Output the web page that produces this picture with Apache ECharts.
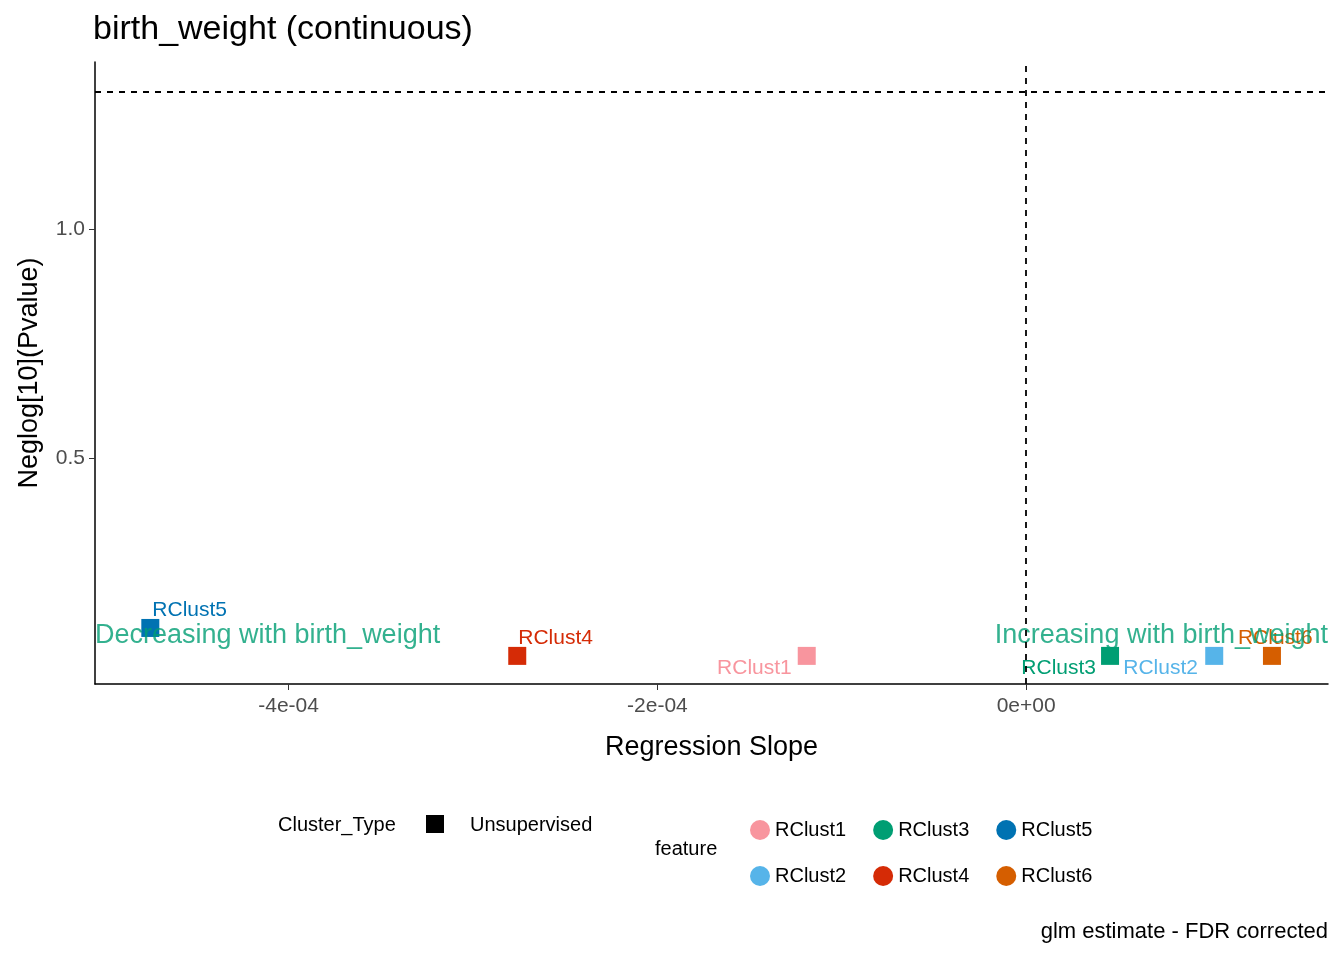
<!DOCTYPE html>
<html lang="en">
<head>
<meta charset="UTF-8">
<title>birth_weight</title>
<script src="https://cdn.jsdelivr.net/npm/echarts@6/dist/echarts.min.js"></script>
</head>
<body style="margin:0">
<div id="chart" style="width:1344px;height:960px;"></div>
<script>
// data
var features = ['RClust1', 'RClust2', 'RClust3', 'RClust4', 'RClust5', 'RClust6'];
var slopes = [-1.19e-4, 1.02e-4, 0.455e-4, -2.76e-4, -4.75e-4, 1.333e-4];
var neglogP = [0.068, 0.068, 0.068, 0.068, 0.129, 0.068];
var colors = ['#F8959E', '#56B4E9', '#009E73', '#D52B06', '#0072B2', '#D55E00'];
var xTicks = [-4e-4, -2e-4, 0];
var xTickLabels = ['-4e-04', '-2e-04', '0e+00'];
var yTicks = [0.5, 1.0];
// label offsets relative to the marker box
var labelPos = [[-6, 11, 'right'], [-82, 11, 'left'], [-5, 11, 'right'], [10, -19, 'left'], [11, -19, 'left'], [-25, -19, 'left']];

var FONT = 'Liberation Sans';
var chart = echarts.init(document.getElementById('chart'));

var series = features.map(function (f, i) {
  return {
    name: f, type: 'scatter', symbol: 'rect', symbolSize: 18,
    itemStyle: { color: colors[i], opacity: 1 },
    data: [[slopes[i], neglogP[i]]],
    label: {
      show: true, formatter: f, position: [labelPos[i][0], labelPos[i][1]],
      align: labelPos[i][2], verticalAlign: 'top',
      color: colors[i], fontSize: 21, fontFamily: FONT
    },
    z: 3
  };
});

series.push({
  type: 'scatter', symbolSize: 0, silent: true,
  data: [
    { value: [-5.05e-4, 0.111], label: { formatter: 'Decreasing with birth_weight', align: 'left', position: [0, -14] } },
    { value: [1.637e-4, 0.111], label: { formatter: 'Increasing with birth_weight', align: 'right', position: [0, -14] } }
  ],
  label: { show: true, color: '#009E73', fontSize: 27, fontFamily: FONT },
  markLine: {
    symbol: 'none', silent: true,
    lineStyle: { color: '#000', type: [6, 6], width: 1.8 },
    label: { show: false },
    data: [{ yAxis: 1.301 }, { xAxis: 0 }]
  },
  z: 4
});

var legendBase = {
  orient: 'horizontal', icon: 'circle', itemWidth: 20, itemHeight: 20, itemGap: 27,
  textStyle: { fontSize: 20, fontFamily: FONT, color: '#000' },
  left: 745
};

chart.setOption({
  animation: false,
  title: { text: 'birth_weight (continuous)', left: 88, top: 8, textStyle: { fontSize: 34, fontWeight: 'normal', fontFamily: FONT, color: '#000' } },
  grid: { left: 95, right: 16, top: 62, bottom: 276 },
  xAxis: {
    type: 'value', min: -5.05e-4, max: 1.637e-4,
    name: 'Regression Slope', nameLocation: 'middle', nameGap: 50,
    nameTextStyle: { fontSize: 27, fontFamily: FONT, color: '#000' },
    axisLine: { onZero: false, lineStyle: { color: '#000', width: 1.5 } },
    axisTick: { show: true, length: 6, customValues: xTicks, lineStyle: { color: '#333' } },
    axisLabel: {
      customValues: xTicks, fontSize: 21, fontFamily: FONT, color: '#4d4d4d', margin: 12,
      formatter: function (v) { return xTickLabels[xTicks.indexOf(v)] || ''; }
    },
    splitLine: { show: false }
  },
  yAxis: {
    type: 'value', min: 0.0066, max: 1.365,
    name: 'Neglog[10](Pvalue)', nameLocation: 'middle', nameGap: 52,
    nameTextStyle: { fontSize: 27, fontFamily: FONT, color: '#000' },
    axisLine: { show: true, onZero: false, lineStyle: { color: '#000', width: 1.5 } },
    axisTick: { show: true, length: 6, customValues: yTicks, lineStyle: { color: '#333' } },
    axisLabel: {
      customValues: yTicks, fontSize: 21, fontFamily: FONT, color: '#4d4d4d', margin: 10,
      formatter: function (v) { return v.toFixed(1); }
    },
    splitLine: { show: false }
  },
  legend: [
    Object.assign({}, legendBase, { top: 815, data: ['RClust1', 'RClust3', 'RClust5'] }),
    Object.assign({}, legendBase, { top: 861, data: ['RClust2', 'RClust4', 'RClust6'] })
  ],
  graphic: [
    { type: 'text', left: 278, top: 815, style: { text: 'Cluster_Type', fontSize: 20, fontFamily: FONT, fill: '#000' } },
    { type: 'rect', shape: { x: 426, y: 815, width: 18, height: 18 }, style: { fill: '#000' } },
    { type: 'text', left: 470, top: 815, style: { text: 'Unsupervised', fontSize: 20, fontFamily: FONT, fill: '#000' } },
    { type: 'text', left: 655, top: 839, style: { text: 'feature', fontSize: 20, fontFamily: FONT, fill: '#000' } },
    { type: 'text', right: 16, top: 921, style: { text: 'glm estimate - FDR corrected', fontSize: 22, fontFamily: FONT, fill: '#000' } }
  ],
  series: series
});
</script>
</body>
</html>
